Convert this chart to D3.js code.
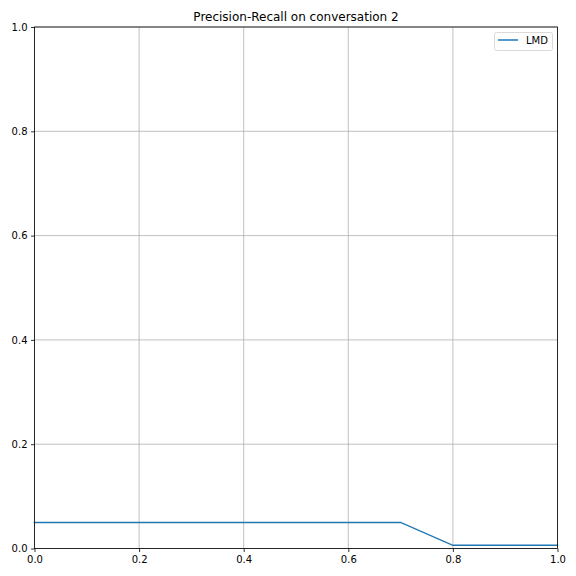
<!DOCTYPE html>
<html><head><meta charset="utf-8">
<script src="https://cdn.jsdelivr.net/npm/d3@7"></script>
<style>body{margin:0;background:#fff}svg{display:block}text{font-family:"DejaVu Sans",sans-serif}</style>
</head><body>
<script>
const recall = [0.0, 0.1, 0.2, 0.3, 0.4, 0.5, 0.6, 0.7, 0.8, 0.9, 1.0];
const precision = [0.05, 0.05, 0.05, 0.05, 0.05, 0.05, 0.05, 0.05, 0.006, 0.006, 0.006];
const xTicks = [0.0, 0.2, 0.4, 0.6, 0.8, 1.0];
const yTicks = [0.0, 0.2, 0.4, 0.6, 0.8, 1.0];
const seriesName = "LMD";
const title = "Precision-Recall on conversation 2";

const W = 576, H = 576;
const m = {left: 34.5, right: 557.5, top: 27, bottom: 548.5};
const svg = d3.select("body").append("svg").attr("width", W).attr("height", H);
svg.append("rect").attr("width", W).attr("height", H).attr("fill", "#fff");
const x = d3.scaleLinear().domain([0, 1]).range([m.left, m.right]);
const y = d3.scaleLinear().domain([0, 1]).range([m.bottom, m.top]);

// grid
const g = svg.append("g");
g.selectAll(".gx").data(xTicks).join("line")
  .attr("x1", d => x(d)).attr("x2", d => x(d)).attr("y1", m.top).attr("y2", m.bottom)
  .attr("stroke", "#b0b0b0").attr("stroke-width", 0.8);
g.selectAll(".gy").data(yTicks).join("line")
  .attr("y1", d => y(d)).attr("y2", d => y(d)).attr("x1", m.left).attr("x2", m.right)
  .attr("stroke", "#b0b0b0").attr("stroke-width", 0.8);

// line
svg.append("path").datum(recall.map((r, i) => [r, precision[i]]))
  .attr("fill", "none").attr("stroke", "#1f77b4").attr("stroke-width", 1.5)
  .attr("stroke-linecap", "square")
  .attr("d", d3.line().x(d => x(d[0])).y(d => y(d[1])));

// axes
const fmt = d3.format(".1f");
const xa = svg.append("g").attr("transform", `translate(0,${m.bottom})`)
  .call(d3.axisBottom(x).tickValues(xTicks).tickFormat(fmt).tickSize(3.5).tickPadding(3.5));
const ya = svg.append("g").attr("transform", `translate(${m.left},0)`)
  .call(d3.axisLeft(y).tickValues(yTicks).tickFormat(fmt).tickSize(3.5).tickPadding(3.5));
[xa, ya].forEach(a => {
  a.select(".domain").remove();
  a.selectAll("text").attr("font-size", 10).attr("fill", "#000").attr("font-family", "DejaVu Sans");
  a.selectAll("line").attr("stroke", "#000").attr("stroke-width", 0.8);
});
svg.append("rect").attr("x", m.left).attr("y", m.top)
  .attr("width", m.right - m.left).attr("height", m.bottom - m.top)
  .attr("fill", "none").attr("stroke", "#000").attr("stroke-width", 0.8);

// title
svg.append("text").attr("x", (m.left + m.right) / 2).attr("y", m.top - 6)
  .attr("text-anchor", "middle").attr("font-size", 12).text(title);

// legend
const lg = svg.append("g");
lg.append("rect").attr("x", 494.5).attr("y", 32.5).attr("width", 58).attr("height", 18)
  .attr("rx", 2).attr("fill", "#fff").attr("fill-opacity", 0.8).attr("stroke", "#d0d0d0").attr("stroke-width", 0.8);
lg.append("line").attr("x1", 498).attr("x2", 518).attr("y1", 40).attr("y2", 40)
  .attr("stroke", "#1f77b4").attr("stroke-width", 1.5);
lg.append("text").attr("x", 526).attr("y", 44).attr("font-size", 10).text(seriesName);
</script>
</body></html>
